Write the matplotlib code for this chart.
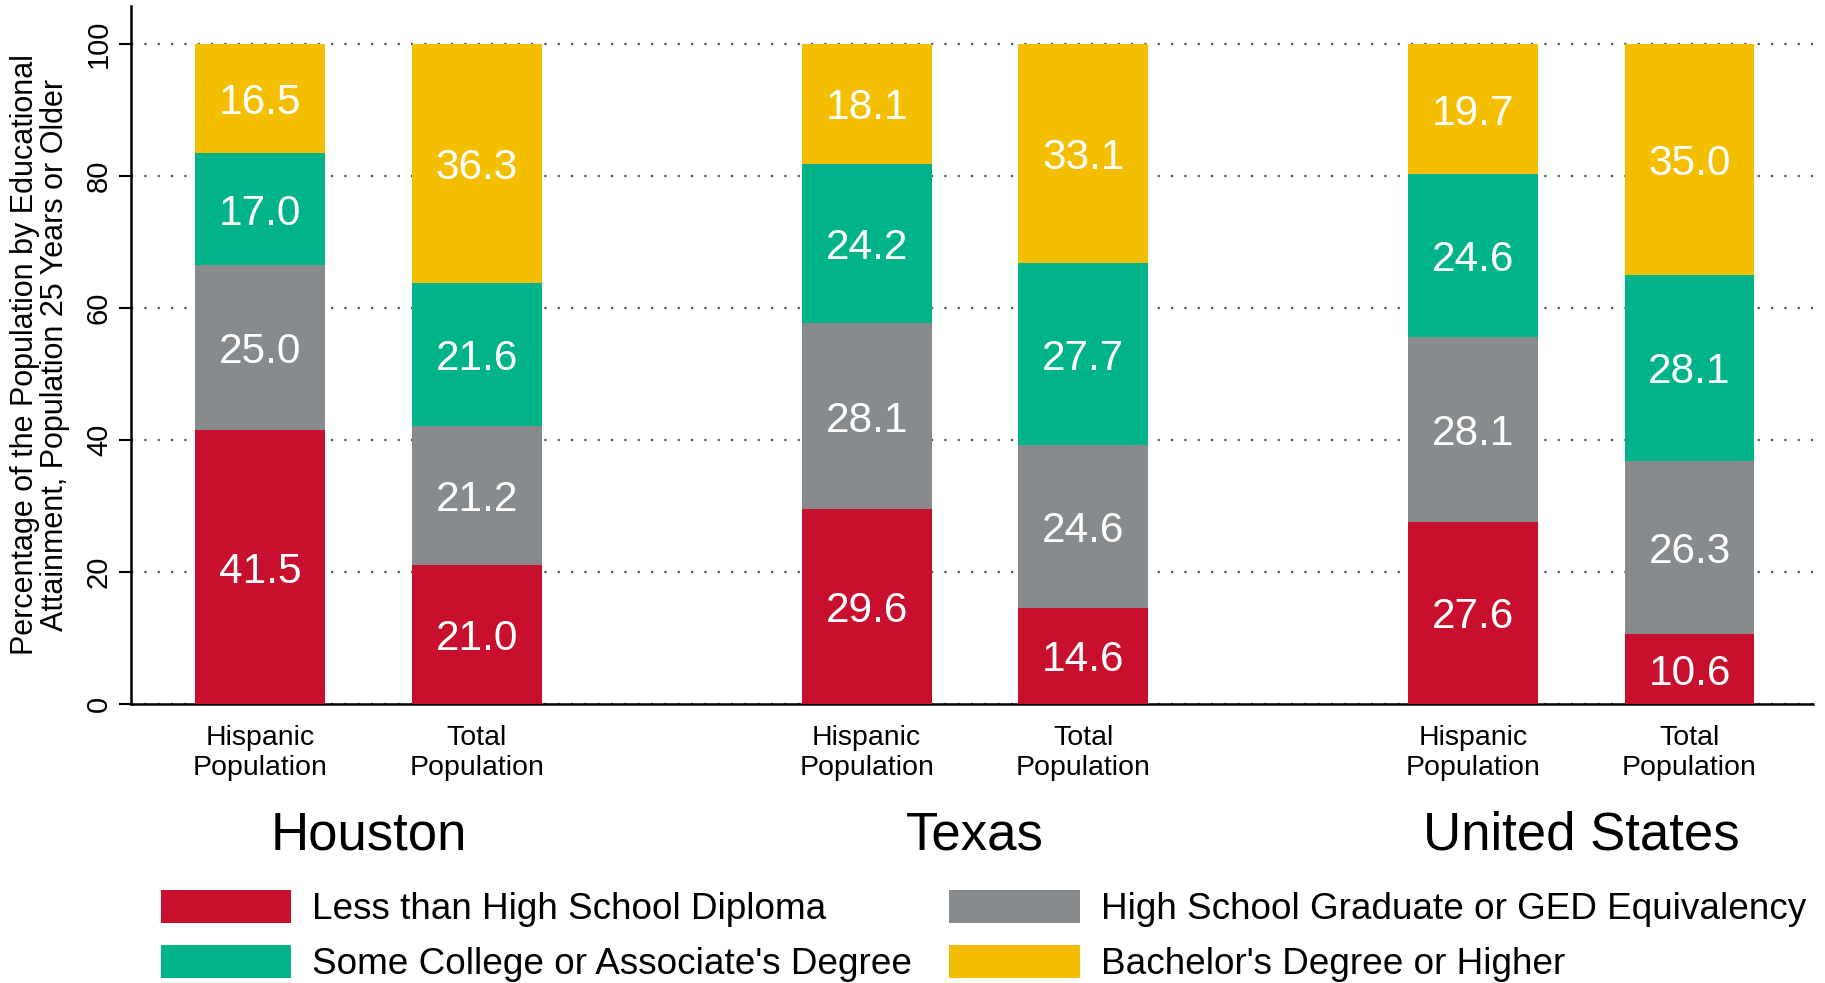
import matplotlib
matplotlib.use("Agg")
import matplotlib.pyplot as plt
import numpy as np
from matplotlib.patches import Patch
from matplotlib.transforms import blended_transform_factory

plt.rcParams["font.family"] = ["Liberation Sans", "DejaVu Sans"]

# ─── Data ─────────────────────────────────────────────
regions = ["Houston", "Texas", "United States"]
bar_labels = ["Hispanic\nPopulation", "Total\nPopulation"] * 3
categories = [
    "Less than High School Diploma",
    "High School Graduate or GED Equivalency",
    "Some College or Associate's Degree",
    "Bachelor's Degree or Higher",
]
# bottom to top, one value per bar (Houston H/T, Texas H/T, US H/T)
less_than_hs = [41.5, 21.0, 29.6, 14.6, 27.6, 10.6]
hs_grad = [25.0, 21.2, 28.1, 24.6, 28.1, 26.3]
some_college = [17.0, 21.6, 24.2, 27.7, 24.6, 28.1]
bachelors = [16.5, 36.3, 18.1, 33.1, 19.7, 35.0]

colors = ["#C8102E", "#888B8D", "#00B388", "#F4BF00"]

# bar positions: pairs, wider gap between regions
x = np.array([0, 1, 2.8, 3.8, 5.6, 6.6])

fig = plt.figure(figsize=(18.25, 9.83), dpi=100)
ax = fig.add_axes([0.0718, 0.2838, 0.9216, 0.7101])

series = [less_than_hs, hs_grad, some_college, bachelors]
bottom = np.zeros(len(x))
for vals, col, cat in zip(series, colors, categories):
    vals = np.array(vals)
    ax.bar(x, vals, width=0.6, bottom=bottom, color=col, edgecolor="none",
           zorder=3, label=cat)
    for xi, b, v in zip(x, bottom, vals):
        ax.text(xi, b + v / 2, f"{v:.1f}", ha="center", va="center_baseline",
                color="white", fontsize=30.5, zorder=4)
    bottom += vals

ax.set_xlim(-0.597, 7.17)
ax.set_ylim(0, 105.8)
ax.set_yticks([0, 20, 40, 60, 80, 100])
ax.set_yticklabels(["0", "20", "40", "60", "80", "100"], rotation=90,
                   va="center", fontsize=21)
ax.tick_params(axis="y", length=9, width=1.5, pad=4)
ax.set_xticks(x)
ax.set_xticklabels(bar_labels, fontsize=20.5, linespacing=1.2)
ax.tick_params(axis="x", length=0, pad=15)

ax.grid(axis="y", color="#555555", linestyle=(0, (1, 5)), linewidth=1.6, zorder=1)
for s in ["top", "right"]:
    ax.spines[s].set_visible(False)
ax.spines["left"].set_linewidth(1.8)
ax.spines["bottom"].set_linewidth(1.8)

# region names under each pair
trans = blended_transform_factory(ax.transData, fig.transFigure)
for i, name in enumerate(regions):
    ax.text((x[2 * i] + x[2 * i + 1]) / 2, 1 - 836 / 983, name,
            transform=trans, ha="center", va="center", fontsize=38)

fig.text(40 / 1825, 1 - 355 / 983,
         "Percentage of the Population by Educational\nAttainment, Population 25 Years or Older",
         rotation=90, ha="center", va="center", fontsize=22, linespacing=1.0)

# legend: row 1 = red, gray ; row 2 = green, gold
order = [0, 2, 1, 3]
handles = [Patch(facecolor=colors[i], edgecolor="none") for i in order]
labels = [categories[i] for i in order]
fig.legend(handles, labels, ncol=2, loc="upper left",
           bbox_to_anchor=(161 / 1825, 1 - 890 / 983), frameon=False,
           fontsize=26.6, handlelength=3.53, handleheight=1.0,
           handletextpad=0.57, columnspacing=1.0, labelspacing=0.47,
           borderpad=0, borderaxespad=0)

fig.savefig("out.png", dpi=100)
